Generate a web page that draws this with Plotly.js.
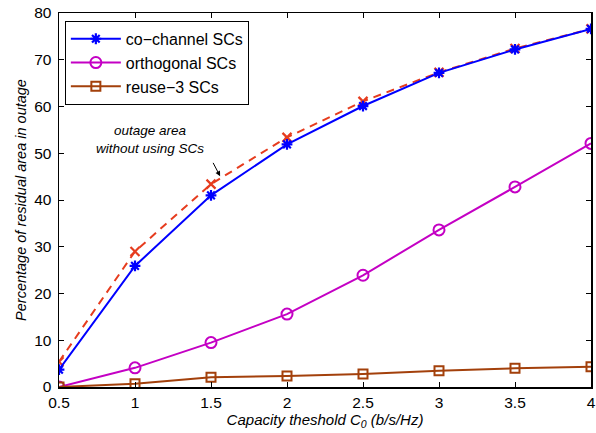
<!DOCTYPE html>
<html>
<head>
<meta charset="utf-8">
<script src="https://cdn.plot.ly/plotly-3.0.1.min.js"></script>
<style>html,body{margin:0;padding:0;background:#fff}#chart{width:596px;height:433px}</style>
</head>
<body>
<div id="chart"></div>
<script>
const capacity = [0.5, 1, 1.5, 2, 2.5, 3, 3.5, 4];
const coChannel = [3.7, 25.9, 41, 51.9, 60.1, 67.2, 72.2, 76.6];
const noSCs = [5.4, 29, 43.4, 53.4, 61.1, 67.3, 72.4, 76.6];
const orthogonal = [0, 4.1, 9.5, 15.6, 23.9, 33.6, 42.8, 52.1];
const reuse3 = [0, 0.7, 2.1, 2.35, 2.8, 3.5, 4.0, 4.35];
const xTicks = [0.5, 1, 1.5, 2, 2.5, 3, 3.5, 4];
const xTickText = ['0.5', '1', '1.5', '2', '2.5', '3', '3.5', '4'];
const yTicks = [0, 10, 20, 30, 40, 50, 60, 70, 80];

const FONT = 'Liberation Sans, Arial, sans-serif';

const traces = [
  {x: capacity, y: noSCs, mode: 'lines+markers', name: 'outage area without using SCs', showlegend: false,
   line: {color: '#e63c1e', width: 2, dash: '8px,6px'},
   marker: {symbol: 'x-thin-open', size: 9, line: {color: '#e63c1e', width: 2.2}}},
  {x: capacity, y: coChannel, mode: 'lines+markers', name: 'co\u2212channel SCs',
   line: {color: '#0000ff', width: 2},
   marker: {symbol: 'asterisk-open', size: 9, line: {color: '#0000ff', width: 2.2}}},
  {x: capacity, y: orthogonal, mode: 'lines+markers', name: 'orthogonal SCs',
   line: {color: '#c400c4', width: 2},
   marker: {symbol: 'circle-open', size: 11, line: {color: '#c400c4', width: 2}}},
  {x: capacity, y: reuse3, mode: 'lines+markers', name: 'reuse\u22123 SCs',
   line: {color: '#a3400b', width: 2},
   marker: {symbol: 'square-open', size: 9, line: {color: '#a3400b', width: 2}}}
];

const axisCommon = {
  showgrid: false, zeroline: false, showline: true, linecolor: '#000', linewidth: 1.5,
  mirror: 'ticks', ticks: 'inside', ticklen: 5, tickcolor: '#000', tickwidth: 1,
  tickfont: {family: FONT, size: 15.5, color: '#000'}
};

const layout = {
  width: 596, height: 433,
  margin: {l: 59, r: 5, t: 13, b: 46},
  paper_bgcolor: '#fff', plot_bgcolor: '#fff',
  xaxis: Object.assign({}, axisCommon, {
    range: [0.5, 4], tickvals: xTicks, ticktext: xTickText, ticklabelstandoff: 1,
    title: {text: '<i>Capacity theshold C<sub>0</sub> (b/s/Hz)</i>', standoff: 2,
            font: {family: FONT, size: 15, color: '#000'}}
  }),
  yaxis: Object.assign({}, axisCommon, {
    range: [0, 80], tickvals: yTicks, ticklabelstandoff: 3,
    title: {text: '<i>Percentage of residual area in outage</i>', standoff: 4,
            font: {family: FONT, size: 14.5, color: '#000'}}
  }),
  legend: {
    x: 0.011, y: 0.979, xanchor: 'left', yanchor: 'top',
    bgcolor: '#fff', bordercolor: '#000', borderwidth: 1,
    font: {family: FONT, size: 16, color: '#000'},
    tracegroupgap: 0, itemwidth: 50
  },
  annotations: [
    {x: 1.1, y: 52.9, xref: 'x', yref: 'y', showarrow: false,
     text: '<i>outage area<br>without using SCs</i>',
     font: {family: FONT, size: 13.5, color: '#000'}, align: 'center'},
    {x: 1.56, y: 45.1, xref: 'x', yref: 'y', text: ' ', showarrow: true,
     ax: -10, ay: -19, arrowhead: 2, arrowsize: 1, arrowwidth: 1, arrowcolor: '#000'}
  ]
};

Plotly.newPlot('chart', traces, layout, {displayModeBar: false, staticPlot: true});
</script>
</body>
</html>
